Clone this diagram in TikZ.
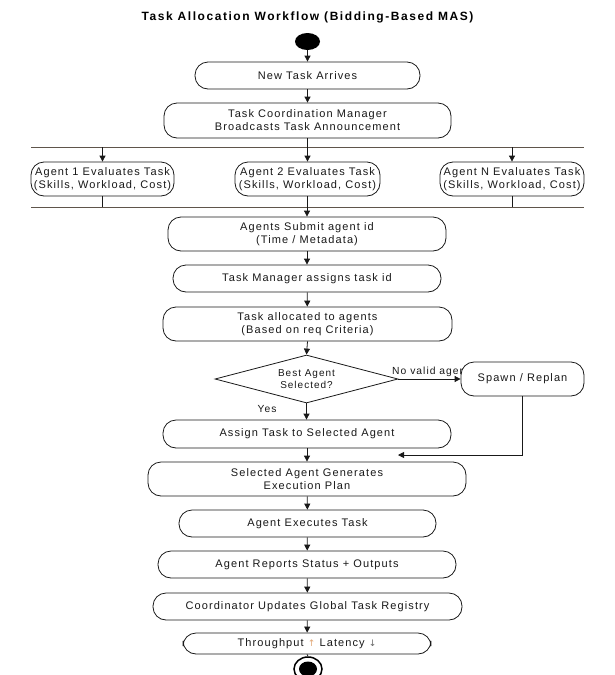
\documentclass[tikz,border=0pt]{standalone}
\usepackage{fontspec}
\setmainfont{Liberation Sans}[LetterSpace=10]
\newfontfamily\symfont{DejaVu Sans}
\usetikzlibrary{shapes.geometric,arrows.meta}
\definecolor{inkc}{RGB}{25,25,25}
\definecolor{barc}{RGB}{95,85,75}
\definecolor{upc}{RGB}{225,165,115}
\begin{document}
\begin{tikzpicture}[x=1pt,y=-1pt,
  box/.style={draw=inkc, line width=0.8pt, rounded corners=13pt, fill=white, align=center,
    inner sep=0pt, font=\fontsize{11}{13}\selectfont, text=inkc},
  arr/.style={-{Triangle[length=6pt,width=6pt]}, line width=0.8pt, draw=inkc},
  ln/.style={line width=0.8pt, draw=inkc},
  bar/.style={line width=0.9pt, draw=barc},
  lbl/.style={inner sep=0pt, font=\fontsize{10.3}{12}\selectfont, text=inkc}
]
\useasboundingbox (0,0) rectangle (615,675);
\fill[white] (0,0) rectangle (615,675);

\node[font=\fontsize{12}{14}\selectfont\bfseries\addfontfeatures{LetterSpace=13}, text=black] (title) at (307.5,17) {Task Allocation Workflow (Bidding-Based MAS)};

\node[ellipse, fill=black, minimum width=25pt, minimum height=17pt, inner sep=0pt] (start) at (307.5,41.5) {};

\node[box, minimum width=225pt, minimum height=27pt] (new) at (307.5,75.5) {New Task Arrives};
\node[box, minimum width=287pt, minimum height=35pt] (tcm) at (307.5,120.5) {Task Coordination Manager\\Broadcasts Task Announcement};

\coordinate (barTL) at (31,147);
\coordinate (barTR) at (584,147);
\coordinate (barBL) at (31,207);
\coordinate (barBR) at (584,207);

\node[box, minimum width=143pt, minimum height=34pt] (a1) at (102.5,179) {Agent 1 Evaluates Task\\(Skills, Workload, Cost)};
\node[box, minimum width=145pt, minimum height=34pt] (a2) at (307.5,179) {Agent 2 Evaluates Task\\(Skills, Workload, Cost)};
\node[box, minimum width=144pt, minimum height=34pt] (aN) at (512,179) {Agent N Evaluates Task\\(Skills, Workload, Cost)};

\node[box, minimum width=278pt, minimum height=34pt] (sub) at (307,234) {Agents Submit agent id\\(Time / Metadata)};
\node[box, minimum width=268pt, minimum height=27pt] (tm) at (307,278.5) {Task Manager assigns task id};
\node[box, minimum width=289pt, minimum height=34pt] (alloc) at (307.5,324) {Task allocated to agents\\(Based on req Criteria)};

\node[diamond, draw=inkc, line width=0.8pt, fill=white, aspect=3.8, inner sep=0pt,
  minimum width=183pt, minimum height=48pt, align=center,
  font=\fontsize{10}{12}\selectfont, text=inkc] (dec) at (306.5,379) {Best Agent\\Selected?};

\node[lbl, anchor=west] (nolbl) at (392,372) {No valid agent};
\node[box, minimum width=123pt, minimum height=34pt] (spawn) at (522.5,379) {Spawn / Replan};

\node[lbl] (yes) at (267,409) {Yes};

\node[box, minimum width=288pt, minimum height=28pt] (assign) at (307,434) {Assign Task to Selected Agent};
\coordinate (ret) at (398,455);

\node[box, minimum width=318pt, minimum height=34pt] (sel) at (307,479) {Selected Agent Generates\\Execution Plan};
\node[box, minimum width=257pt, minimum height=27pt] (exe) at (307.5,523.5) {Agent Executes Task};
\node[box, minimum width=298pt, minimum height=27pt] (rep) at (307,564.5) {Agent Reports Status + Outputs};
\node[box, minimum width=309pt, minimum height=27pt] (coord) at (307.5,606.5) {Coordinator Updates Global Task Registry};
\node[box, minimum width=248pt, minimum height=21pt] (thr) at (307,643.5) {Throughput {\symfont\fontsize{9}{10}\selectfont\color{upc}↑} Latency {\symfont\fontsize{9}{10}\selectfont\color{black!60}↓}};

\node[ellipse, draw=black, line width=1.5pt, fill=white, minimum width=28pt, minimum height=24pt, inner sep=0pt] (end) at (308,669) {};
\node[ellipse, fill=black, minimum width=18pt, minimum height=15pt, inner sep=0pt] (endin) at (end.center) {};

% bars
\draw[bar] (barTL) -- (barTR);
\draw[bar] (barBL) -- (barBR);

% connectors
\draw[arr] (start) -- (new);
\draw[arr] (new) -- (tcm);
\draw[ln] (tcm.south) -- (tcm.south |- barTL);
\draw[arr] (a1.north |- barTL) -- (a1.north);
\draw[arr] (a2.north |- barTL) -- (a2.north);
\draw[arr] (aN.north |- barTL) -- (aN.north);
\draw[ln] (a1.south) -- (a1.south |- barBL);
\draw[ln] (a2.south) -- (a2.south |- barBL);
\draw[ln] (aN.south) -- (aN.south |- barBL);
\draw[arr] (sub.north |- barBL) -- (sub.north);
\draw[arr] (sub) -- (tm);
\draw[arr] (tm) -- (alloc);
\draw[arr] (alloc.south) -- (dec.north);
\draw[arr] (dec.south) -- (dec.south |- assign.north);
\draw[arr] (dec.east) -- (spawn.west);
\draw[arr] (spawn.south) |- (ret);
\draw[arr] (assign) -- (sel);
\draw[arr] (sel) -- (exe);
\draw[arr] (exe) -- (rep);
\draw[arr] (rep) -- (coord);
\draw[arr] (coord) -- (thr);
\draw[ln] (thr.south) -- (end.north);
\end{tikzpicture}
\end{document}
